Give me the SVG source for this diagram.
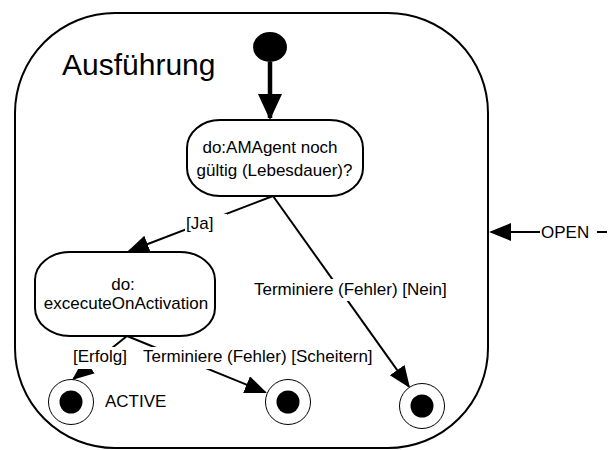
<svg xmlns="http://www.w3.org/2000/svg" width="611" height="450" viewBox="0 0 611 450">
  <style>
    text { font-family: "Liberation Sans", Arial, sans-serif; fill: #000; }
    .lbl { font-size: 17px; }
    .title { font-size: 30px; }
    .state { fill: #fff; stroke: #000; stroke-width: 2; }
    .final-ring { fill: #fff; stroke: #000; stroke-width: 1; }
    .final-dot { fill: #000; }
    .edge { stroke: #000; stroke-width: 2; fill: none; marker-end: url(#arrow); }
    .edge-init { stroke: #000; stroke-width: 4.5; fill: none; marker-end: url(#arrow-big); }
    .bg { fill: #fff; }
  </style>
  <defs>
    <marker id="arrow" markerUnits="userSpaceOnUse" markerWidth="24" markerHeight="20" refX="20" refY="9" orient="auto">
      <path d="M0,0 L22,9 L0,18 z" fill="#000"/>
    </marker>
    <marker id="arrow-big" markerUnits="userSpaceOnUse" markerWidth="28" markerHeight="26" refX="24" refY="12" orient="auto">
      <path d="M0,0 L26,12 L0,24 z" fill="#000"/>
    </marker>
  </defs>

  <!-- composite state -->
  <g id="ausfuehrung">
    <rect x="15" y="13" width="473" height="435" rx="100" ry="100" fill="#fff" stroke="#000" stroke-width="2"/>
    <text class="title" x="62" y="75">Ausführung</text>
  </g>

  <g id="initial">
    <ellipse cx="270" cy="47" rx="17" ry="15" fill="#000"/>
  </g>

  <g id="check-lifetime">
    <rect class="state" x="187" y="120" width="176" height="76" rx="33" ry="28"/>
    <text class="lbl" x="270" y="153" text-anchor="middle">do:AMAgent noch</text>
    <text class="lbl" x="274.5" y="176" text-anchor="middle">gültig (Lebesdauer)?</text>
  </g>

  <g id="execute-on-activation">
    <rect class="state" x="35" y="252" width="180" height="84" rx="35" ry="28"/>
    <text class="lbl" x="123" y="290" text-anchor="middle">do:</text>
    <text class="lbl" x="126" y="309" text-anchor="middle">excecuteOnActivation</text>
  </g>

  <g id="final-active">
    <circle class="final-ring" cx="71" cy="402" r="22.5"/>
    <circle class="final-dot" cx="71" cy="402" r="11.5"/>
    <text class="lbl" x="105" y="407">ACTIVE</text>
  </g>

  <g id="final-failed">
    <circle class="final-ring" cx="288" cy="402" r="22.5"/>
    <circle class="final-dot" cx="288" cy="402" r="11.5"/>
  </g>

  <g id="final-expired">
    <circle class="final-ring" cx="422" cy="406" r="22.5"/>
    <circle class="final-dot" cx="422" cy="406" r="11.5"/>
  </g>

  <!-- transitions -->
  <g id="connectors">
    <line class="edge-init" x1="270" y1="62" x2="270" y2="118"/>
    <line class="edge" x1="273" y1="196" x2="128.9" y2="251.3"/>
    <line class="edge" x1="273" y1="196" x2="408.8" y2="386.4"/>
    <line class="edge" x1="127" y1="336" x2="73.6" y2="378.8"/>
    <line class="edge" x1="127" y1="336" x2="265.1" y2="392.2"/>
    <line class="edge" x1="607" y1="232" x2="491" y2="232"/>

    <rect class="bg" x="185" y="214" width="42" height="20"/>
    <text class="lbl" x="186" y="229">[Ja]</text>

    <rect class="bg" x="253" y="279" width="196" height="22"/>
    <text class="lbl" x="254" y="295">Terminiere (Fehler) [Nein]</text>

    <rect class="bg" x="72" y="347" width="56" height="22"/>
    <text class="lbl" x="73" y="362">[Erfolg]</text>

    <rect class="bg" x="142" y="347" width="233" height="22"/>
    <text class="lbl" x="143" y="362">Terminiere (Fehler) [Scheitern]</text>

    <rect class="bg" x="540" y="222" width="57" height="20"/>
    <text class="lbl" x="541" y="238">OPEN</text>
  </g>
</svg>
